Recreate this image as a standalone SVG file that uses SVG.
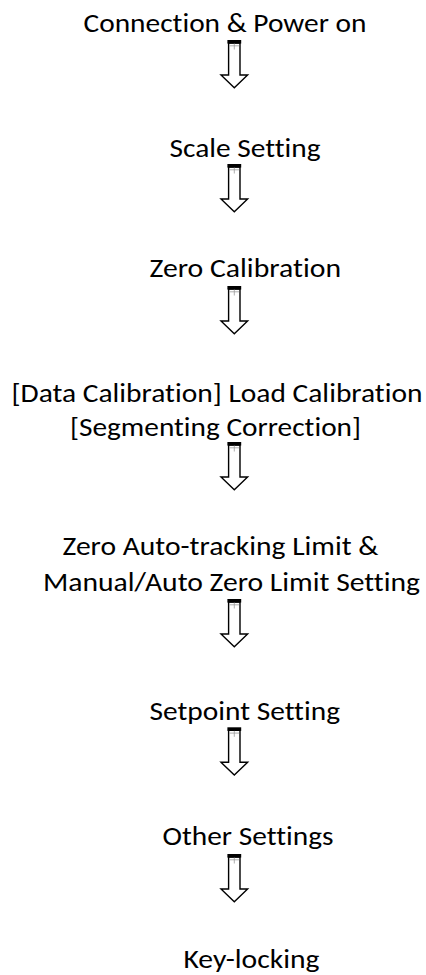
<svg xmlns="http://www.w3.org/2000/svg" xmlns:xlink="http://www.w3.org/1999/xlink" width="426" height="975" viewBox="0 0 426 975">
<style>
.t{font-family:"Carlito","Open Sans","Liberation Sans",sans-serif;font-size:26px;font-weight:400;fill:#000;font-variant-ligatures:none}
.sh{fill:#fff;stroke:#000;stroke-width:1.4;stroke-linejoin:miter}
.fine{stroke:#9a9a9a;stroke-width:0.8;fill:none}
</style>
<defs>
<g id="arrow">
<path class="sh" d="M228.6,3 V35 H221 L234.3,47.7 L247.6,35 H240 V3 Z"/>
<rect x="227.4" y="0" width="13.8" height="3.6" fill="#000"/>
<path class="fine" d="M229.4,5.8 H239.2 M234.3,3.6 V9.5"/>
</g>
</defs>
<rect width="426" height="975" fill="#fff"/>
<g id="connectors">
<use xlink:href="#arrow" href="#arrow" transform="translate(0,40)"/>
<use xlink:href="#arrow" href="#arrow" transform="translate(0,164)"/>
<use xlink:href="#arrow" href="#arrow" transform="translate(0,286)"/>
<use xlink:href="#arrow" href="#arrow" transform="translate(0,442)"/>
<use xlink:href="#arrow" href="#arrow" transform="translate(0,599)"/>
<use xlink:href="#arrow" href="#arrow" transform="translate(0,727.3)"/>
<use xlink:href="#arrow" href="#arrow" transform="translate(0,854)"/>
</g>
<g id="n1"><text class="t" x="83.5" y="32.3" textLength="283" lengthAdjust="spacingAndGlyphs">Connection &amp; Power on</text></g>
<g id="n2"><text class="t" x="169.5" y="156.7" textLength="151" lengthAdjust="spacingAndGlyphs">Scale Setting</text></g>
<g id="n3"><text class="t" x="149.5" y="277.3" textLength="191.5" lengthAdjust="spacingAndGlyphs">Zero Calibration</text></g>
<g id="n4">
<text class="t" x="11.5" y="401.7" textLength="411" lengthAdjust="spacingAndGlyphs">[Data Calibration] Load Calibration</text>
<text class="t" x="70" y="435.5" textLength="291" lengthAdjust="spacingAndGlyphs">[Segmenting Correction]</text>
</g>
<g id="n5">
<text class="t" x="62.5" y="555" textLength="316" lengthAdjust="spacingAndGlyphs">Zero Auto-tracking Limit &amp;</text>
<text class="t" x="43" y="590.7" textLength="377" lengthAdjust="spacingAndGlyphs">Manual/Auto Zero Limit Setting</text>
</g>
<g id="n6"><text class="t" x="149.5" y="720" textLength="190.5" lengthAdjust="spacingAndGlyphs">Setpoint Setting</text></g>
<g id="n7"><text class="t" x="162.5" y="845" textLength="171" lengthAdjust="spacingAndGlyphs">Other Settings</text></g>
<g id="n8"><text class="t" x="183.5" y="968.3" textLength="136" lengthAdjust="spacingAndGlyphs">Key-locking</text></g>
</svg>
